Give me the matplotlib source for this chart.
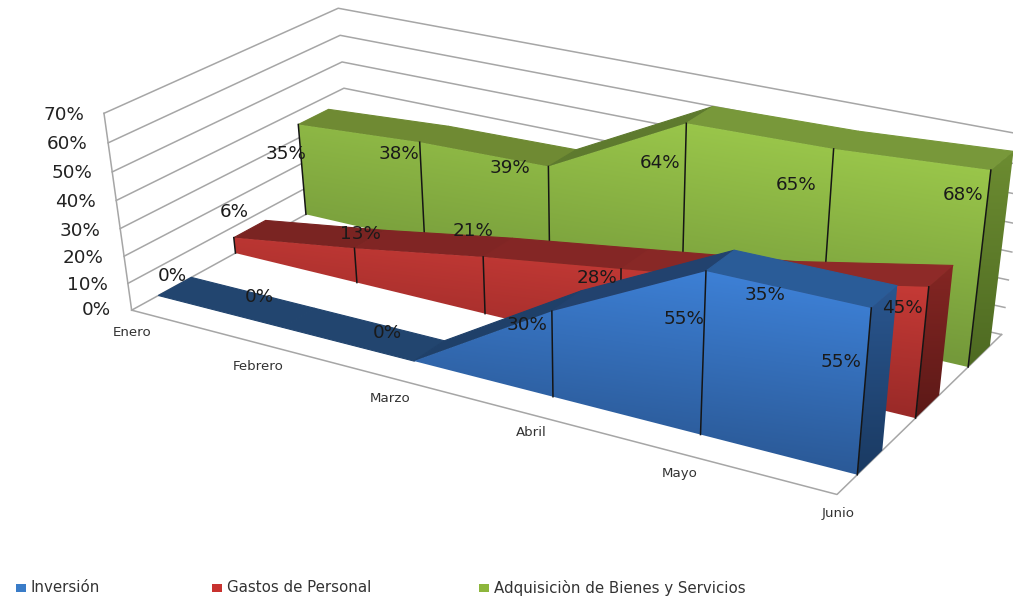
import numpy as np
import matplotlib
matplotlib.use("Agg")
import matplotlib.pyplot as plt
from matplotlib.patches import Polygon, Rectangle
from matplotlib.colors import to_rgb

# ---------- data ----------
months = ["Enero", "Febrero", "Marzo", "Abril", "Mayo", "Junio"]
inversion = [0, 0, 0, 30, 55, 55]
gastos = [6, 13, 21, 28, 35, 45]
adquisicion = [35, 38, 39, 64, 65, 68]
value_ticks = [0, 10, 20, 30, 40, 50, 60, 70]
legend_names = ["Inversión", "Gastos de Personal", "Adquisiciòn de Bienes y Servicios"]

# ---------- styling / layout ----------
W, H = 1013, 601
DEPTH = {"inv": (0.11, 0.25), "gas": (0.445, 0.59), "adq": (0.775, 0.92)}
FACE = {
    "inv": ("#3F84DC", "#2B5A98", "#2A568F", "#1A3A62"),
    "gas": ("#D5403B", "#9A2A28", "#842623", "#5C1917"),
    "adq": ("#A2D04E", "#74993A", "#6C8C31", "#4E6A22"),
}
TOPS = {
    "inv": ["#22456F", "#22456F", "#1F4069", "#22426E", "#2A5C98"],
    "gas": ["#7A2422", "#802524", "#842625", "#882826", "#8E2A28"],
    "adq": ["#6F8A33", "#6F8A33", "#5E7A2E", "#78983A", "#78983A"],
}
tick_xy = [(111, 310), (108, 285), (104, 258), (100, 231), (96, 202), (92, 173), (88, 144), (84, 115)]
month_xy = [(132, 332), (258, 366), (390, 398), (531, 433), (680, 473), (838, 514)]
lab_adq = [(286, 154), (399, 154), (510, 168), (660, 163), (796, 185), (963, 195)]
lab_gas = [(234, 212), (360, 234), (473, 231), (597, 278), (765, 295), (902, 308)]
lab_inv = [(172, 276), (259, 297), (387, 333), (527, 325), (684, 319), (841, 362)]
legend_box_x = [21, 217, 484]
legend_text_x = [31, 227, 494]
legend_y = 588
legend_cols = ["#3A7CC8", "#C8322F", "#8DB63C"]

# camera calibration: (month index, depth fraction, value) -> picture position
calib = [
    (0, 0, 0, 131, 309), (5, 0, 0, 839, 493), (0, 1, 0, 352, 192), (5, 1, 0, 1002, 332),
    (0, 0, 70, 105, 113), (0, 1, 70, 338, 6), (5, 1, 70, 1028, 134),
    (3, .11, 30, 552, 311), (4, .11, 55, 706, 272), (5, .11, 55, 872, 308),
    (5, .785, 68, 992, 170), (5, .92, 68, 1012, 153), (3, .785, 64, 687, 123),
    (3, .11, 0, 552, 398), (4, .11, 0, 699, 435), (5, .11, 0, 857, 475),
]
A = []
for u, d, z, px, py in calib:
    X = [u / 5, d, z / 70, 1]
    x, y = px / 1000, py / 1000
    A.append(X + [0, 0, 0, 0] + [-x * v for v in X])
    A.append([0, 0, 0, 0] + X + [-y * v for v in X])
P = np.linalg.svd(np.array(A))[2][-1].reshape(3, 4)


def proj(u, d, z):
    h = P @ np.array([u / 5, d, z / 70, 1.0])
    return h[0] / h[2] * 1000, h[1] / h[2] * 1000


fig = plt.figure(figsize=(W / 100, H / 100), dpi=100)
ax = fig.add_axes([0, 0, 1, 1])
ax.set_axis_off()


def grad_poly(pts, c0, c1, zo, tilt=0.45):
    """Polygon filled with a light-to-dark gradient (top right light)."""
    pts = np.array(pts)
    x0, y0 = pts.min(0)
    x1, y1 = pts.max(0)
    yy, xx = np.mgrid[0:1:64j, 0:1:64j]
    t = np.clip(yy + tilt * (1 - xx), 0, 1)[..., None]
    img = (1 - t) * np.array(to_rgb(c0)) + t * np.array(to_rgb(c1))
    im = ax.imshow(img, extent=(x0, x1, y1, y0), aspect="auto", zorder=zo, interpolation="bilinear")
    clip = Polygon(pts, closed=True, transform=ax.transData, facecolor="none", edgecolor="none")
    ax.add_patch(clip)
    im.set_clip_path(clip)


GRID = "#A6A6A6"
# walls
for v in value_ticks:
    a, b, c = proj(0, 0, v), proj(0, 1, v), proj(5, 1, v)
    ax.plot([a[0], b[0], c[0]], [a[1], b[1], c[1]], color=GRID, lw=1.1, zorder=1)
a, b = proj(0, 0, 0), proj(0, 0, 70)
ax.plot([a[0], b[0]], [a[1], b[1]], color=GRID, lw=1.1, zorder=1)
a, b, c = proj(0, 0, 0), proj(5, 0, 0), proj(5, 1, 0)
ax.plot([a[0], b[0], c[0]], [a[1], b[1], c[1]], color=GRID, lw=1.1, zorder=1)


def area(key, vals, base):
    d0, d1 = DEPTH[key]
    ftop, fbot, stop, sbot = FACE[key]
    zo = base
    n = len(vals)
    # top faces
    for i in range(n - 1):
        col = TOPS[key][i]
        q = [proj(i, d0, vals[i]), proj(i + 1, d0, vals[i + 1]),
             proj(i + 1, d1, vals[i + 1]), proj(i, d1, vals[i])]
        ax.add_patch(Polygon(q, closed=True, facecolor=col, edgecolor=col, lw=0.8, zorder=zo + i * 0.01))
    # right end
    s = [proj(n - 1, d0, 0), proj(n - 1, d1, 0), proj(n - 1, d1, vals[-1]), proj(n - 1, d0, vals[-1])]
    grad_poly(s, stop, sbot, zo + 0.1, tilt=0)
    # front
    f = [proj(i, d0, vals[i]) for i in range(n)] + [proj(n - 1, d0, 0), proj(0, d0, 0)]
    grad_poly(f, ftop, fbot, zo + 0.2)
    # joints
    for i in range(n):
        if vals[i] > 0:
            a, b = proj(i, d0, 0), proj(i, d0, vals[i])
            ax.plot([a[0], b[0]], [a[1], b[1]], color="#151515", lw=1.1, zorder=zo + 0.3)


area("adq", adquisicion, 2)
area("gas", gastos, 3)
area("inv", inversion, 4)

# labels
TXT = dict(ha="center", va="center", color="#1A1A1A", fontsize=13.2, zorder=10)
for vals, xy in ((adquisicion, lab_adq), (gastos, lab_gas), (inversion, lab_inv)):
    for v, (x, y) in zip(vals, xy):
        ax.text(x, y, f"{v}%", **TXT)
for v, (x, y) in zip(value_ticks, tick_xy):
    ax.text(x, y, f"{v}%", ha="right", va="center", color="#222222", fontsize=13.2, zorder=10)
for m, (x, y) in zip(months, month_xy):
    ax.text(x, y, m, ha="center", va="center", color="#333333", fontsize=9.6, zorder=10)
for name, bx, tx, col in zip(legend_names, legend_box_x, legend_text_x, legend_cols):
    ax.add_patch(Rectangle((bx - 5, legend_y - 4), 10, 8, facecolor=col, edgecolor="none", zorder=10))
    ax.text(tx, legend_y, name, ha="left", va="center", color="#333333", fontsize=10.85, zorder=10)

ax.set_xlim(0, W)
ax.set_ylim(H, 0)
fig.savefig("out.png", dpi=100, facecolor="white")
